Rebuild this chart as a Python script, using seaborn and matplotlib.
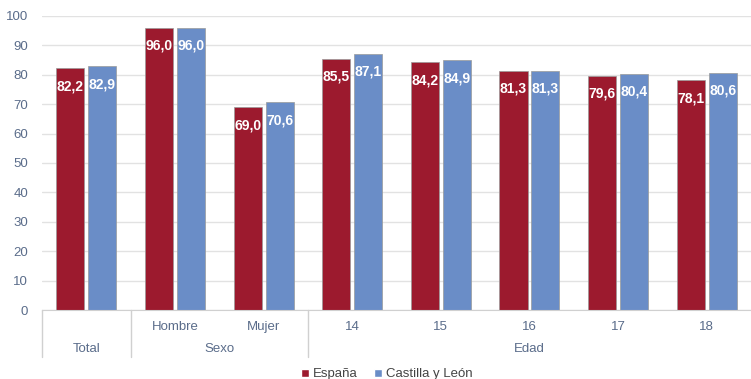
import pandas as pd
import seaborn as sns
import matplotlib.pyplot as plt
import matplotlib.transforms as mtransforms
from matplotlib.patches import Patch

# data
categories = ['Total', 'Hombre', 'Mujer', '14', '15', '16', '17', '18']
espana = [82.2, 96.0, 69.0, 85.5, 84.2, 81.3, 79.6, 78.1]
castilla = [82.9, 96.0, 70.6, 87.1, 84.9, 81.3, 80.4, 80.6]
series_names = ['España', 'Castilla y León']
groups = ['Total', 'Sexo', 'Edad']
group_spans = [(0, 0), (1, 2), (3, 7)]  # first / last category index per group

colors = {'España': '#9C1A2E', 'Castilla y León': '#6A8DC7'}
tick_color = '#5A6C8A'

rows = []
for cat, e, c in zip(categories, espana, castilla):
    rows.append({'cat': cat, 'serie': 'España', 'value': e})
    rows.append({'cat': cat, 'serie': 'Castilla y León', 'value': c})
df = pd.DataFrame(rows)

sns.set_style('white')
plt.rcParams['font.family'] = ['Liberation Sans', 'DejaVu Sans']
fig = plt.figure(figsize=(7.51, 3.79), dpi=100)
ax = fig.add_axes([0.056, 0.182, 0.944, 0.776])

sns.barplot(data=df, x='cat', y='value', hue='serie', order=categories,
            hue_order=series_names, palette=colors, saturation=1,
            width=0.72, gap=0.12, edgecolor='#9a9a9a', linewidth=0.5,
            legend=False, ax=ax)

for cont in ax.containers:
    labels = [f'{b.get_height():.1f}'.replace('.', ',') for b in cont]
    ax.bar_label(cont, labels=labels, padding=-18, color='white',
                 fontweight='bold', fontsize=10)

ax.set_ylim(0, 100)
ax.set_xlim(-0.5, len(categories) - 0.5)
ax.set_yticks(range(0, 101, 10))
ax.yaxis.grid(True, color='#e2e2e2', linewidth=1)
ax.set_axisbelow(True)
for s in ['left', 'right', 'top']:
    ax.spines[s].set_visible(False)
ax.spines['bottom'].set_color('#d0d0d0')
ax.tick_params(axis='y', length=0, labelsize=9.5, labelcolor=tick_color, pad=10)
ax.set_xticks([])
ax.set_xlabel('')
ax.set_ylabel('')

# hierarchical category labels
trans = mtransforms.blended_transform_factory(ax.transData, ax.transAxes)
for i, cat in enumerate(categories):
    if cat == 'Total':
        continue
    ax.text(i, -0.058, cat, transform=trans, ha='center', va='center',
            fontsize=9.5, color=tick_color)
for name, (a, b) in zip(groups, group_spans):
    ax.text((a + b) / 2, -0.133, name, transform=trans, ha='center',
            va='center', fontsize=9.5, color=tick_color)
for x in [-0.5, 0.5, 2.5]:
    ax.plot([x, x], [0, -0.16], transform=trans, color='#d0d0d0',
            linewidth=1, clip_on=False)

handles = [Patch(facecolor=colors[s], label=s) for s in series_names]
fig.legend(handles=handles, loc='lower center', bbox_to_anchor=(0.515, -0.035),
           ncol=2, frameon=False, fontsize=9.5, handlelength=0.6,
           handleheight=0.6, handletextpad=0.3, columnspacing=1.2,
           labelcolor='#444444')

fig.savefig('out.png', dpi=100)
